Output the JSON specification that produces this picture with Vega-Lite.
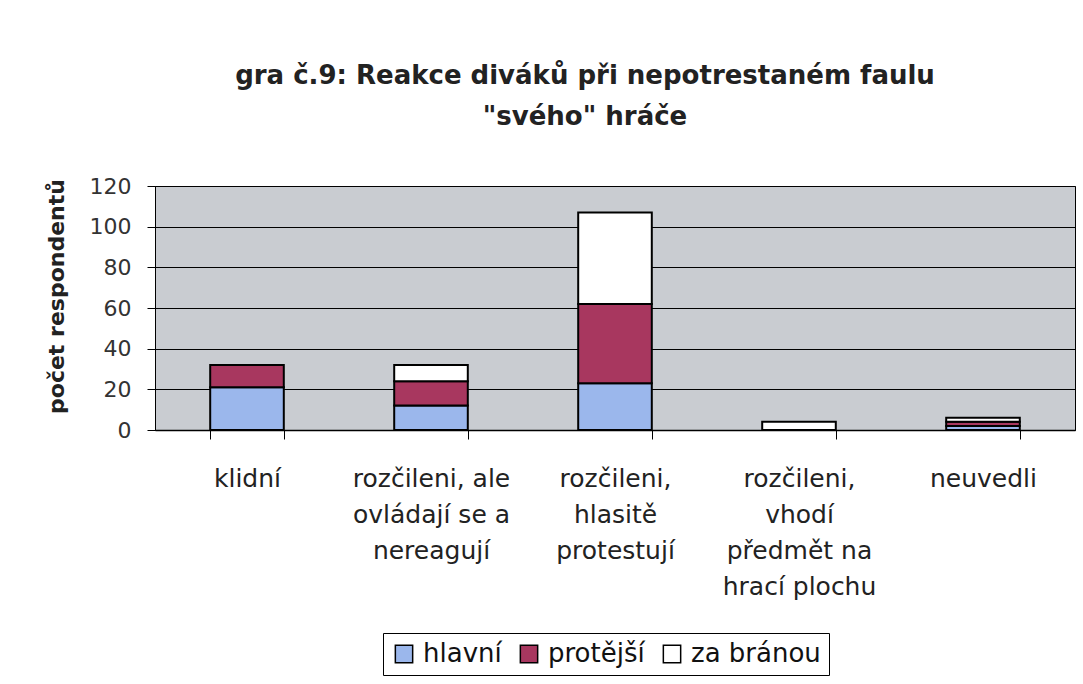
{
  "$schema": "https://vega.github.io/schema/vega-lite/v6.json",
  "width": 920,
  "height": 244,
  "autosize": {"type": "none"},
  "padding": {"left": 155, "top": 186, "right": 8, "bottom": 254},
  "background": "#ffffff",
  "title": {
    "text": ["gra č.9:  Reakce diváků při nepotrestaném faulu", "\"svého\" hráče"],
    "anchor": "middle",
    "dx": -30,
    "offset": 45,
    "font": "DejaVu Sans",
    "fontSize": 26,
    "fontWeight": "bold",
    "color": "#222222",
    "lineHeight": 41
  },
  "data": {
    "values": [
      {"kategorie": "klidní", "sektor": "hlavní", "pocet": 21},
      {"kategorie": "klidní", "sektor": "protější", "pocet": 11},
      {"kategorie": "klidní", "sektor": "za bránou", "pocet": 0},
      {"kategorie": "rozčileni, ale|ovládají se a|nereagují", "sektor": "hlavní", "pocet": 12},
      {"kategorie": "rozčileni, ale|ovládají se a|nereagují", "sektor": "protější", "pocet": 12},
      {"kategorie": "rozčileni, ale|ovládají se a|nereagují", "sektor": "za bránou", "pocet": 8},
      {"kategorie": "rozčileni,|hlasitě|protestují", "sektor": "hlavní", "pocet": 23},
      {"kategorie": "rozčileni,|hlasitě|protestují", "sektor": "protější", "pocet": 39},
      {"kategorie": "rozčileni,|hlasitě|protestují", "sektor": "za bránou", "pocet": 45},
      {"kategorie": "rozčileni,|vhodí|předmět na|hrací plochu", "sektor": "hlavní", "pocet": 0},
      {"kategorie": "rozčileni,|vhodí|předmět na|hrací plochu", "sektor": "protější", "pocet": 0},
      {"kategorie": "rozčileni,|vhodí|předmět na|hrací plochu", "sektor": "za bránou", "pocet": 4},
      {"kategorie": "neuvedli", "sektor": "hlavní", "pocet": 2},
      {"kategorie": "neuvedli", "sektor": "protější", "pocet": 2},
      {"kategorie": "neuvedli", "sektor": "za bránou", "pocet": 2}
    ]
  },
  "mark": {"type": "bar", "stroke": "#000000", "strokeWidth": 2},
  "encoding": {
    "x": {
      "field": "kategorie",
      "type": "nominal",
      "sort": null,
      "scale": {"paddingInner": 0.6, "paddingOuter": 0.3},
      "axis": {
        "title": null,
        "labelAngle": 0,
        "labelExpr": "split(datum.label, '|')",
        "labelFont": "DejaVu Sans",
        "labelFontSize": 25,
        "labelColor": "#222222",
        "labelLineHeight": 36,
        "labelPadding": 27,
        "labelLimit": 300,
        "tickBand": "extent",
        "tickSize": 9,
        "tickColor": "#000000",
        "domainColor": "#000000",
        "domainWidth": 1.5
      }
    },
    "y": {
      "field": "pocet",
      "type": "quantitative",
      "aggregate": "sum",
      "stack": "zero",
      "scale": {"domain": [0, 120], "nice": false},
      "axis": {
        "title": "počet respondentů",
        "titleFont": "DejaVu Sans",
        "titleFontSize": 22,
        "titleFontWeight": "bold",
        "titleColor": "#222222",
        "titleY": 110,
        "titleX": -87,
        "values": [0, 20, 40, 60, 80, 100, 120],
        "labelFont": "DejaVu Sans",
        "labelFontSize": 22,
        "labelColor": "#333333",
        "labelPadding": 16,
        "tickSize": 8,
        "tickColor": "#000000",
        "domainColor": "#000000",
        "gridColor": "#000000",
        "gridWidth": 1,
        "grid": true
      }
    },
    "color": {
      "field": "sektor",
      "type": "nominal",
      "scale": {
        "domain": ["hlavní", "protější", "za bránou"],
        "range": ["#9bb7ec", "#a8375f", "#ffffff"]
      },
      "legend": {
        "title": null,
        "orient": "none",
        "legendX": 228,
        "legendY": 447,
        "direction": "horizontal",
        "symbolType": "square",
        "symbolSize": 300,
        "symbolStrokeColor": "#000000",
        "symbolStrokeWidth": 1.5,
        "labelFont": "DejaVu Sans",
        "labelFontSize": 26,
        "labelColor": "#111111",
        "labelOffset": 6,
        "columnPadding": 14,
        "strokeColor": "#000000",
        "padding": 8
      }
    },
    "order": {"field": "sektor", "sort": "ascending"}
  },
  "config": {
    "view": {"fill": "#c9ccd1", "stroke": "#000000", "strokeWidth": 1}
  }
}
